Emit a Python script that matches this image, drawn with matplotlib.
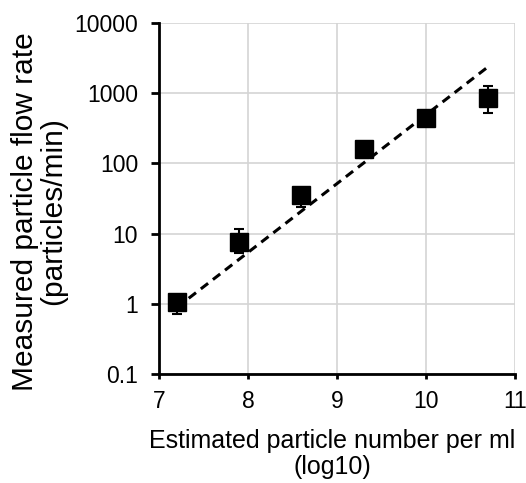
import matplotlib.pyplot as plt
import numpy as np

# measured points (x = log10 of estimated particles per ml)
x_vals = [7.2, 7.9, 8.6, 9.3, 10.0, 10.7]
flow_rate = [1.05, 7.5, 35, 162, 450, 870]
err_low = [0.72, 5.2, 24, 120, 400, 530]
err_high = [1.3, 11.5, 45, 200, 500, 1270]

# dashed trend line endpoints
fit_x = [7.2, 10.7]
fit_y = [0.88, 2400]

x_ticks = [7, 8, 9, 10, 11]
y_ticks = [0.1, 1, 10, 100, 1000, 10000]
y_tick_labels = ['0.1', '1', '10', '100', '1000', '10000']

plt.rcParams['font.family'] = ['Liberation Sans', 'DejaVu Sans']

fig = plt.figure(figsize=(5.26, 4.83), dpi=100)
ax = fig.add_axes([0.302, 0.226, 0.677, 0.726])

y = np.array(flow_rate)
yerr = [y - np.array(err_low), np.array(err_high) - y]

ax.plot(fit_x, fit_y, '--', color='black', linewidth=2.2, dashes=(3, 2), zorder=3)
ax.errorbar(x_vals, flow_rate, yerr=yerr, fmt='s', color='black', markersize=12.5,
            ecolor='black', elinewidth=1.5, capsize=3.5, capthick=1.5, zorder=4)

ax.set_yscale('log')
ax.set_xlim(7, 11)
ax.set_ylim(0.1, 10000)
ax.set_xticks(x_ticks)
ax.set_yticks(y_ticks)
ax.set_yticklabels(y_tick_labels)
ax.minorticks_off()

ax.grid(True, color='#d4d4d4', linewidth=1.2)
ax.set_axisbelow(True)
for side in ['top', 'right']:
    ax.spines[side].set_visible(False)
for side in ['left', 'bottom']:
    ax.spines[side].set_linewidth(2)
ax.tick_params(axis='y', direction='out', length=6, width=2, labelsize=16.5, pad=9)
ax.tick_params(axis='x', direction='out', length=3.5, width=2, labelsize=16.5, pad=8)

ax.set_xlabel('Estimated particle number per ml\n(log10)', fontsize=18,
              linespacing=1.1, va='center')
ax.xaxis.set_label_coords(0.487, -0.228)
ax.set_ylabel('Measured particle flow rate\n(particles/min)', fontsize=21.5,
              linespacing=1.0, va='center')
ax.yaxis.set_label_coords(-0.337, 0.464)

fig.savefig('out.png', dpi=100)
